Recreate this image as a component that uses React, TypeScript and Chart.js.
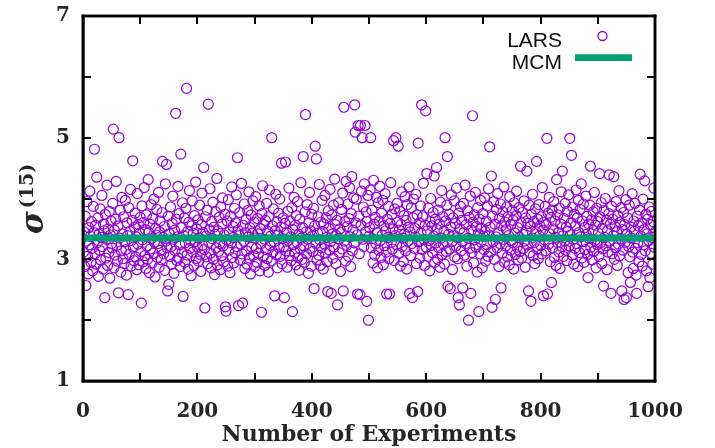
import { useEffect, useRef } from 'react';
import { Chart, registerables } from 'chart.js';

Chart.register(...registerables);

const larsValues: number[] = [
  3.12, 3.45, 2.88, 3.71, 2.57, 3.30, 3.95, 3.05, 2.76, 3.52, 3.24, 4.12, 3.38, 2.95, 3.62, 3.18, 2.81, 3.87, 3.44, 4.81,
  3.09, 3.56, 2.92, 4.35, 3.27, 3.68, 2.72, 3.41, 3.15, 3.83, 2.99, 3.36, 4.05, 3.21, 2.84, 3.58, 3.47, 2.37, 3.74, 3.02,
  3.33, 4.22, 2.90, 3.50, 3.11, 3.79, 2.69, 3.40, 3.63, 3.26,
  3.19, 3.92, 5.14, 2.86, 3.48, 3.07, 3.66, 4.28, 3.23, 2.97, 3.55, 2.45, 5.00, 3.35, 3.81, 2.79, 3.14, 4.02, 3.42, 3.01,
  3.70, 2.93, 3.29, 3.97, 3.16, 2.74, 3.60, 3.39, 2.42, 3.85, 3.08, 3.46, 4.15, 2.89, 3.31, 3.64, 4.62, 3.20, 2.98, 3.53,
  3.76, 3.04, 3.37, 2.83, 4.08, 3.25, 3.57, 2.91, 3.43, 3.69,
  3.13, 2.28, 3.88, 3.32, 2.96, 3.61, 4.18, 3.06, 3.49, 2.85, 3.73, 3.22, 3.00, 4.31, 3.44, 2.78, 3.58, 3.17, 3.90, 3.34,
  2.94, 3.67, 3.10, 3.99, 3.28, 2.71, 3.51, 3.40, 3.82, 3.03, 3.26, 4.10, 2.87, 3.45, 3.63, 3.15, 2.99, 3.77, 4.61, 3.36,
  3.09, 3.54, 2.82, 4.24, 3.30, 4.56, 3.19, 2.48, 3.71, 2.59,
  3.42, 3.05, 3.86, 3.21, 2.92, 3.59, 4.04, 3.33, 2.77, 3.48, 3.14, 5.40, 3.66, 2.98, 3.37, 4.20, 3.02, 3.75, 3.24, 2.88,
  4.73, 3.52, 3.11, 3.93, 2.39, 3.39, 3.68, 2.95, 3.27, 3.84, 5.81, 3.07, 3.46, 2.84, 3.61, 4.13, 3.18, 3.31, 2.73, 3.55,
  3.96, 3.12, 3.43, 2.90, 3.72, 3.29, 4.27, 3.01, 3.50, 3.20,
  3.65, 2.97, 3.35, 3.89, 3.08, 2.80, 3.57, 4.09, 3.23, 3.44, 4.51, 3.16, 2.20, 3.70, 3.38, 3.04, 3.81, 2.93, 5.55, 3.28,
  3.49, 4.16, 3.10, 2.86, 3.62, 3.34, 3.94, 3.00, 3.53, 2.75, 3.41, 3.78, 3.19, 4.33, 2.91, 3.47, 3.13, 3.69, 3.26, 2.83,
  3.86, 3.06, 3.58, 4.01, 3.22, 2.96, 3.40, 3.74, 2.22, 2.15,
  3.32, 3.63, 2.89, 3.98, 3.15, 3.45, 2.78, 3.71, 3.27, 4.19, 3.03, 3.54, 3.36, 2.94, 3.84, 3.11, 3.60, 4.06, 3.21, 4.67,
  3.48, 2.24, 3.39, 3.77, 2.99, 3.25, 4.25, 3.09, 2.28, 3.56, 3.30, 3.91, 2.85, 3.44, 3.66, 3.14, 2.92, 3.80, 3.37, 4.11,
  3.02, 3.52, 2.76, 3.73, 3.20, 3.43, 3.96, 3.07, 3.61, 2.88,
  3.35, 4.03, 3.18, 2.95, 3.67, 3.42, 3.10, 3.88, 2.81, 3.50, 3.26, 2.13, 3.75, 4.21, 3.04, 3.57, 3.33, 2.90, 3.64, 3.16,
  3.92, 3.01, 3.46, 2.79, 3.70, 4.14, 3.23, 3.38, 2.97, 5.00, 3.55, 3.12, 3.83, 3.29, 2.40, 3.47, 4.07, 3.08, 3.62, 2.86,
  3.40, 3.76, 3.19, 3.99, 3.05, 3.53, 4.58, 2.93, 3.34, 3.68,
  3.21, 2.37, 3.59, 4.60, 3.14, 3.44, 2.87, 3.79, 3.31, 4.17, 3.06, 3.63, 3.37, 2.98, 3.85, 2.14, 3.49, 3.24, 4.02, 3.11,
  3.56, 2.91, 3.72, 3.28, 3.95, 3.03, 3.41, 2.82, 3.66, 3.17, 4.26, 3.35, 3.00, 3.52, 4.69, 3.22, 2.95, 3.78, 5.38, 3.45,
  3.09, 3.90, 3.33, 2.77, 3.60, 4.10, 3.18, 3.47, 2.89, 3.74,
  3.38, 3.13, 3.84, 2.52, 3.55, 4.86, 3.26, 4.65, 2.99, 3.43, 3.70, 3.07, 4.23, 3.32, 2.90, 3.61, 3.19, 3.97, 3.46, 2.84,
  3.58, 3.25, 4.05, 3.10, 3.68, 3.36, 2.96, 2.47, 3.80, 3.51, 3.15, 4.15, 3.29, 2.44, 3.73, 3.42, 3.02, 3.89, 3.20, 4.32,
  3.57, 2.93, 3.39, 3.64, 2.25, 3.34, 3.93, 3.11, 3.50, 2.80,
  3.44, 3.82, 3.17, 4.09, 2.48, 5.50, 3.30, 3.62, 2.97, 4.28, 3.23, 3.54, 3.91, 3.05, 3.67, 4.18, 3.37, 2.88, 3.75, 4.36,
  3.14, 3.48, 4.01, 3.27, 5.54, 5.09, 3.60, 3.99, 3.40, 2.43, 5.20, 3.71, 3.09, 2.42, 5.20, 3.56, 4.12, 5.00, 3.33, 3.86,
  3.21, 4.24, 5.20, 3.45, 3.78, 2.31, 3.62, 4.05, 2.00, 3.38,
  3.52, 4.14, 5.00, 3.19, 3.81, 3.34, 2.94, 4.30, 3.58, 3.07, 3.69, 3.26, 4.02, 3.44, 2.86, 3.93, 3.15, 3.63, 4.20, 3.31,
  3.03, 3.76, 3.40, 3.97, 2.91, 3.55, 3.22, 4.08, 3.47, 3.12, 2.43, 3.66, 3.36, 3.87, 3.01, 2.43, 3.59, 4.26, 3.28, 3.74,
  3.17, 3.50, 4.95, 2.98, 3.83, 3.39, 5.00, 3.24, 3.92, 3.61,
  4.86, 3.10, 3.48, 3.79, 2.89, 3.57, 4.11, 3.21, 3.35, 2.96, 3.72, 3.42, 4.03, 3.14, 3.64, 2.84, 3.90, 3.30, 3.53, 4.19,
  2.44, 3.45, 3.06, 3.85, 3.26, 2.37, 3.68, 3.99, 3.18, 3.51, 3.37, 4.07, 2.93, 3.73, 2.47, 4.91, 3.29, 3.60, 3.02, 3.88,
  3.43, 5.54, 3.16, 3.70, 4.25, 3.33, 2.90, 3.56, 5.44, 3.20,
  4.41, 3.47, 3.05, 3.84, 3.31, 2.81, 3.62, 4.00, 3.23, 3.55, 3.11, 3.77, 3.38, 4.37, 2.95, 3.66, 3.27, 4.51, 3.49, 3.00,
  3.81, 3.19, 3.58, 2.87, 3.94, 3.35, 4.13, 3.08, 3.70, 3.25, 3.46, 2.92, 5.00, 3.63, 3.13, 3.89, 4.69, 2.56, 3.41, 3.74,
  3.17, 2.52, 3.53, 4.06, 3.29, 2.83, 3.68, 3.40, 3.96, 3.04,
  3.59, 3.22, 4.17, 3.36, 3.01, 2.37, 3.76, 2.25, 3.50, 3.87, 3.14, 3.64, 3.30, 2.53, 3.92, 3.44, 3.07, 4.22, 3.26, 3.57,
  2.89, 3.80, 3.35, 2.00, 3.69, 3.18, 4.04, 2.44, 3.48, 3.11, 5.36, 3.61, 2.94, 3.73, 3.32, 4.10, 3.20, 3.54, 2.79, 3.85,
  3.42, 2.14, 3.66, 3.09, 3.97, 3.28, 3.51, 2.86, 3.75, 3.38,
  3.16, 4.01, 3.46, 2.97, 3.63, 3.24, 3.88, 3.05, 4.16, 3.40, 4.85, 3.53, 3.12, 4.37, 2.21, 3.71, 3.29, 3.95, 3.00, 3.58,
  2.34, 3.37, 3.82, 3.19, 4.08, 3.44, 2.88, 3.67, 3.26, 3.91, 2.53, 3.55, 3.10, 3.78, 3.33, 4.19, 2.95, 3.61, 3.22, 3.49,
  3.86, 3.04, 3.70, 3.39, 2.91, 4.03, 3.15, 3.57, 3.31, 3.80,
  3.27, 3.64, 2.84, 3.93, 3.43, 3.08, 3.72, 4.12, 3.20, 3.52, 2.99, 3.85, 3.36, 3.13, 4.53, 3.60, 3.02, 3.77, 3.41, 3.18,
  3.96, 3.30, 2.87, 3.68, 3.47, 4.45, 3.24, 3.59, 2.48, 3.89, 3.11, 3.54, 2.31, 3.74, 3.35, 4.07, 3.06, 3.62, 3.28, 2.93,
  3.83, 3.45, 4.61, 3.17, 3.66, 3.01, 3.90, 3.38, 3.55, 3.23,
  3.70, 3.09, 4.18, 3.48, 2.40, 3.61, 3.32, 3.87, 3.14, 3.57, 4.99, 2.43, 3.76, 3.25, 4.02, 3.42, 2.96, 3.69, 2.62, 3.81,
  3.19, 3.50, 3.95, 3.03, 3.63, 3.36, 2.90, 4.31, 3.28, 3.73, 3.44, 3.12, 3.84, 2.85, 3.58, 4.11, 3.21, 4.45, 3.39, 3.05,
  3.67, 3.30, 3.92, 3.15, 3.53, 2.98, 3.79, 3.46, 4.06, 3.22,
  4.99, 3.40, 3.60, 4.71, 3.07, 3.86, 3.33, 2.92, 3.74, 3.18, 3.55, 4.14, 3.26, 3.68, 2.88, 3.97, 3.44, 3.11, 3.82, 3.37,
  4.24, 3.02, 3.63, 3.29, 3.91, 2.95, 3.52, 3.16, 4.04, 3.41, 3.71, 3.08, 2.70, 3.58, 3.34, 3.89, 4.53, 3.20, 3.65, 2.99,
  3.48, 3.78, 3.13, 4.10, 3.31, 3.56, 2.86, 3.84, 3.24, 3.62,
  3.43, 3.05, 4.41, 3.70, 3.27, 3.93, 2.93, 3.51, 3.17, 2.56, 3.80, 3.36, 4.00, 3.22, 3.64, 2.83, 3.47, 3.12, 3.75, 4.39,
  3.30, 3.58, 2.44, 3.87, 3.09, 3.66, 3.39, 4.36, 3.00, 3.54, 3.19, 3.95, 3.45, 2.90, 3.72, 3.25, 4.13, 3.06, 3.61, 3.34,
  3.85, 2.48, 3.49, 3.15, 3.77, 2.34, 3.57, 3.28, 3.98, 2.37,
  3.41, 3.68, 2.78, 3.21, 3.89, 3.04, 2.62, 3.53, 3.35, 4.08, 3.12, 2.85, 3.63, 3.46, 3.92, 3.18, 2.74, 2.44, 3.71, 3.27,
  3.55, 2.96, 3.81, 4.40, 3.38, 3.08, 3.60, 2.89, 3.99, 3.24, 3.49, 4.29, 3.14, 3.74, 2.81, 3.42, 3.66, 2.55, 3.31, 3.86,
  2.70, 3.57, 3.10, 3.79, 3.36, 2.92, 3.62, 4.17, 3.20, 3.45,
];

const experimentNumbers: number[] = larsValues.map((_, i) => i + 1);

// MCM reference level, spanning the whole experiment range
const mcmLevel = 3.35;
const mcmRange: number[] = [0, 1000];

const xTickLabelStep = 200;
const xMinorTickStep = 100;
const yTickLabelStep = 2;
const yMinorTickStep = 1;

const LARS_COLOR = '#9400D3';
const MCM_COLOR = '#009E73';
const TEXT_COLOR = '#262626';
const AXIS_COLOR = '#000000';

function drawFrame(chart: any) {
  const ctx: CanvasRenderingContext2D = chart.ctx;
  const { left, right, top, bottom } = chart.chartArea;
  const xs = chart.scales.x;
  const ys = chart.scales.y;
  const tl = 8;
  const tw = 2;
  const fw = 2.5;
  ctx.save();
  ctx.globalAlpha = 1;
  ctx.globalCompositeOperation = 'source-over';
  ctx.fillStyle = AXIS_COLOR;
  for (let v = xs.min; v <= xs.max + 1e-9; v += xMinorTickStep) {
    const px = Math.round(xs.getPixelForValue(v));
    ctx.fillRect(px - tw / 2, bottom - tl, tw, tl);
    ctx.fillRect(px - tw / 2, top, tw, tl);
  }
  for (let v = ys.min; v <= ys.max + 1e-9; v += yMinorTickStep) {
    const py = Math.round(ys.getPixelForValue(v));
    ctx.fillRect(left, py - tw / 2, tl, tw);
    ctx.fillRect(right - tl, py - tw / 2, tl, tw);
  }
  ctx.fillRect(left - fw / 2, top - fw / 2, right - left + fw, fw);
  ctx.fillRect(left - fw / 2, bottom - fw / 2, right - left + fw, fw);
  ctx.fillRect(left - fw / 2, top - fw / 2, fw, bottom - top + fw);
  ctx.fillRect(right - fw / 2, top - fw / 2, fw, bottom - top + fw);
  ctx.restore();
}

const whiteBackground = {
  id: 'whiteBackground',
  beforeDraw(chart: any) {
    const ctx: CanvasRenderingContext2D = chart.ctx;
    ctx.save();
    ctx.fillStyle = '#ffffff';
    ctx.fillRect(0, 0, chart.width, chart.height);
    ctx.restore();
  },
};

const framePlugin = {
  id: 'gnuplotFrame',
  beforeDatasetsDraw(chart: any) {
    drawFrame(chart);
  },
  afterDraw(chart: any) {
    drawFrame(chart);
    const ctx: CanvasRenderingContext2D = chart.ctx;
    const { left, right } = chart.chartArea;

    // Axis titles
    ctx.save();
    ctx.fillStyle = TEXT_COLOR;
    ctx.font = 'bold 22px "DejaVu Serif"';
    ctx.textAlign = 'center';
    ctx.textBaseline = 'alphabetic';
    ctx.fillText('Number of Experiments', (left + right) / 2, 441);
    ctx.restore();

    ctx.save();
    ctx.translate(43, 234);
    ctx.rotate(-Math.PI / 2);
    ctx.fillStyle = TEXT_COLOR;
    ctx.textAlign = 'left';
    ctx.textBaseline = 'alphabetic';
    ctx.font = 'italic bold 31px "DejaVu Serif"';
    ctx.fillText('σ', 0, 0);
    const w = ctx.measureText('σ').width;
    ctx.font = 'bold 19px "DejaVu Serif"';
    ctx.fillText('(15)', w + 3, -10);
    ctx.restore();

    // Legend (gnuplot style: label left, sample right)
    ctx.save();
    ctx.fillStyle = '#111';
    ctx.font = '21px "Liberation Sans"';
    ctx.textAlign = 'right';
    ctx.textBaseline = 'alphabetic';
    ctx.fillText('LARS', 562, 46.5);
    ctx.fillText('MCM', 562, 69);
    ctx.strokeStyle = LARS_COLOR;
    ctx.lineWidth = 1.3;
    ctx.beginPath();
    ctx.arc(602.5, 36, 4.5, 0, Math.PI * 2);
    ctx.stroke();
    ctx.fillStyle = MCM_COLOR;
    ctx.fillRect(575, 54.3, 57, 6.7);
    ctx.restore();
  },
};

export default function App() {
  const canvasRef = useRef<HTMLCanvasElement | null>(null);

  useEffect(() => {
    document.body.style.margin = '0';
    const canvas = canvasRef.current;
    if (!canvas) return;
    const tickFont = { family: '"DejaVu Serif"', size: 20, weight: 'bold' as const };
    const chart = new Chart(canvas, {
      type: 'scatter',
      data: {
        datasets: [
          {
            label: 'LARS',
            data: experimentNumbers.map((x, i) => ({ x, y: larsValues[i] })),
            showLine: false,
            pointStyle: 'circle',
            pointRadius: 5,
            pointBorderWidth: 1.2,
            pointBorderColor: LARS_COLOR,
            pointBackgroundColor: 'rgba(255,255,255,0)',
            order: 2,
          },
          {
            label: 'MCM',
            type: 'line',
            data: mcmRange.map((x) => ({ x, y: mcmLevel })),
            borderColor: MCM_COLOR,
            borderWidth: 7,
            pointRadius: 0,
            fill: false,
            order: 1,
          } as any,
        ],
      },
      options: {
        responsive: false,
        animation: false,
        events: [],
        layout: { padding: { left: 0, right: 60, top: 16, bottom: 0 } },
        plugins: { legend: { display: false }, tooltip: { enabled: false } },
        scales: {
          x: {
            type: 'linear',
            min: 0,
            max: 1000,
            grid: { display: false },
            border: { display: true, color: AXIS_COLOR, width: 2.5 },
            ticks: {
              stepSize: xTickLabelStep,
              font: tickFont,
              color: TEXT_COLOR,
              padding: 11,
              maxRotation: 0,
              callback: (v: any) => String(v),
            },
            afterFit: (s: any) => {
              s.height = 67;
            },
          },
          y: {
            type: 'linear',
            min: 1,
            max: 7,
            grid: { display: false },
            border: { display: true, color: AXIS_COLOR, width: 2.5 },
            ticks: { stepSize: yTickLabelStep, font: tickFont, color: TEXT_COLOR, padding: 5, callback: (v: any) => String(v) },
            afterFit: (s: any) => {
              s.width = 83;
              s.paddingTop = 0;
              s.paddingBottom = 0;
            },
          },
        },
      },
      plugins: [whiteBackground, framePlugin],
    });
    return () => chart.destroy();
  }, []);

  return (
    <div style={{ width: 715, height: 448, background: '#ffffff' }}>
      <canvas ref={canvasRef} width={715} height={448} style={{ display: 'block' }} />
    </div>
  );
}
